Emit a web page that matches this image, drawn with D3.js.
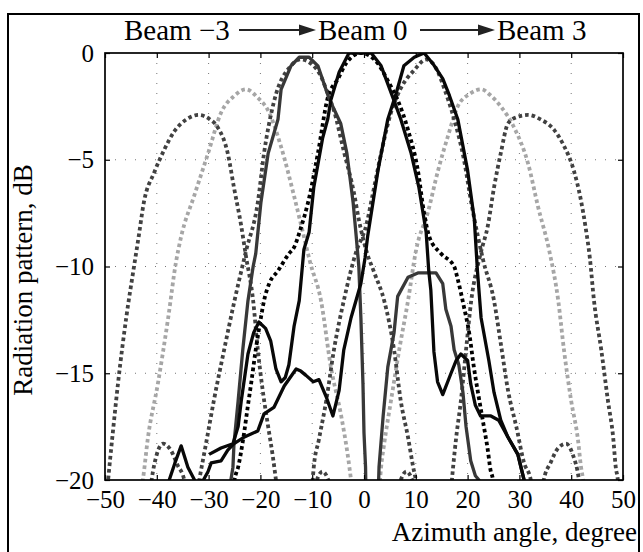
<!DOCTYPE html>
<html>
<head>
<meta charset="utf-8">
<script src="https://cdn.jsdelivr.net/npm/d3@7"></script>
<style>
  body { margin: 0; background: #fff; }
  svg text { font-family: "Liberation Serif", "DejaVu Serif", serif !important; fill: #000; }
</style>
</head>
<body>
<div id="chart"></div>
<script>
// axis ticks
var xTicks = [-50, -40, -30, -20, -10, 0, 10, 20, 30, 40, 50];
var yTicks = [0, -5, -10, -15, -20];

// simulated patterns (dotted) [angle, dB]
var simBeamM3 = [[-50,-21.5],[-49.4,-20],[-49,-19],[-48.5,-17.8],[-47.5,-15.5],[-45.9,-12.4],[-44.4,-10],[-43.5,-8.6],[-42.5,-7],[-40.5,-5.6],[-38.5,-4.5],[-36.7,-3.7],[-34.2,-3.1],[-31.9,-2.9],[-29.8,-3.1],[-28.2,-3.5],[-26.3,-4.7],[-25.1,-6.3],[-23.7,-8.1],[-22.8,-9.5],[-21.4,-11.6],[-20.5,-13.9],[-19.5,-15.9],[-18.5,-17.5],[-17.6,-18.9],[-17,-20],[-16.5,-21]];
var simBeamM2 = [[-43.5,-21],[-42.7,-20],[-41.7,-18],[-39.8,-15.5],[-37.8,-12.4],[-36.3,-9.8],[-35.3,-8.6],[-32.8,-6.7],[-30.1,-4.7],[-27.6,-2.8],[-25,-2],[-22.8,-1.7],[-20.5,-2.1],[-18.5,-2.7],[-16,-4.4],[-13.5,-6.7],[-11.6,-8.6],[-10.4,-9.8],[-8.3,-11.6],[-6.4,-14.7],[-4.4,-17],[-3.1,-18.9],[-2.5,-20],[-2,-21]];
var simBeamM1 = [[-32.5,-21],[-31.8,-20],[-30.5,-18.3],[-29,-16.3],[-27,-13.9],[-25,-11.6],[-22.8,-9.3],[-20.5,-7],[-19.3,-4.7],[-17.4,-2.3],[-14.1,-0.6],[-12.2,-0.3],[-10.2,-0.5],[-8.3,-1.1],[-7,-1.9],[-5.8,-2.7],[-3.9,-4.6],[-1.9,-6.6],[-1,-7.8],[0.5,-9.3],[2,-10.3],[3.9,-11.6],[5.8,-13.9],[7.1,-16.3],[8.5,-18],[9.5,-19.4],[10,-20],[10.5,-21]];
var simBeam0 = [[-25.5,-21],[-25,-20],[-24.3,-19.4],[-23.4,-18.2],[-22.4,-16.5],[-21.8,-15.5],[-20.9,-13.9],[-19.9,-12.4],[-19.3,-11.6],[-18.3,-10.8],[-16.6,-10.2],[-14.5,-9.4],[-13.5,-9.1],[-12.2,-8.2],[-10.8,-7],[-8.9,-4.7],[-7,-2.1],[-5,-1.2],[-3.5,-0.5],[-0.6,0],[2.7,-0.5],[4.6,-1.3],[6.5,-2.2],[8.5,-3.6],[10.4,-5.5],[11.6,-7.5],[12.6,-8.6],[14.9,-9.4],[17.4,-10],[18.1,-10.6],[19.3,-11.9],[20.3,-13.1],[21.2,-14.7],[22,-15.9],[23,-17.3],[23.9,-18.6],[24.4,-19.5],[24.9,-20],[25.3,-21]];
var simBeam1 = [[-10.2,-21],[-9.7,-19.4],[-8.7,-18.1],[-7.3,-16.3],[-5.8,-13.9],[-3.9,-11.6],[-1.5,-9.3],[0.4,-8.1],[1.7,-6.6],[3.3,-4.7],[5.2,-2.8],[7,-1.7],[9.7,-0.8],[12,-0.3],[14.3,-0.9],[15.4,-1.6],[17.4,-3.1],[19.3,-5],[20.7,-7],[22,-8.6],[23,-9.7],[25.1,-11.6],[26.4,-13.6],[27.8,-15.8],[29.4,-17.5],[30.9,-19.2],[32.2,-20],[32.7,-21]];
var simBeam2 = [[2.8,-21],[3.3,-19.4],[3.9,-18.3],[5.2,-16.3],[6.8,-13.9],[8.5,-11.6],[10,-9.3],[12.4,-7.4],[14.3,-5.5],[16.2,-3.9],[18.1,-2.5],[20.5,-1.9],[22.6,-1.7],[24.5,-2],[26.4,-2.5],[29,-3.5],[31.7,-5.2],[33.6,-7.2],[35.8,-9.3],[37.5,-11.6],[38.6,-13.9],[40,-16.3],[41.3,-18.1],[41.9,-19.4],[42.3,-20],[42.7,-21]];
var simBeam3 = [[16.6,-21],[17.2,-19.4],[17.8,-18],[18.7,-16.3],[19.7,-13.9],[20.7,-11.6],[22.5,-9.4],[23.9,-8.1],[25.1,-6.3],[26.4,-4.7],[27.8,-3.3],[29.5,-3],[31.7,-2.9],[34,-3.1],[36.7,-3.6],[38.5,-4.3],[40.5,-5.5],[41.8,-6.8],[42.8,-8.2],[43.6,-9.6],[44.4,-11.6],[45.8,-13.9],[47.1,-16.3],[48.1,-18],[48.6,-19.4],[49,-20],[49.3,-21]];
var sideLobeLeft = [[-41.5,-21],[-41,-20],[-40,-18.8],[-38.8,-18.3],[-37.3,-18.6],[-36,-19.3],[-34.7,-20],[-34.2,-21]];
var sideLobeRight = [[34.2,-21],[34.7,-20],[36,-19.2],[37.5,-18.5],[39,-18.3],[40.3,-18.8],[41.5,-20],[42,-21]];
var sideLobeNear = [[[-9.8,-20.6],[-9.1,-20],[-8,-19.6],[-6.9,-20],[-6.2,-20.6]], [[6.4,-20.6],[7.1,-20],[8.2,-19.6],[9.3,-20],[10,-20.6]]];

// measured patterns (solid)
var measBeamM1 = [[-25.8,-21],[-25.7,-20],[-25.3,-19.4],[-25.1,-18.3],[-24.3,-16.3],[-23.4,-13.9],[-22.4,-11.6],[-21.4,-10],[-20.9,-9.4],[-19.9,-7],[-18.5,-4.7],[-16.6,-3.1],[-16,-1.7],[-14.1,-0.6],[-12.5,-0.2],[-10.6,-0.2],[-8.9,-0.6],[-6.8,-2.1],[-4.5,-3.3],[-3.3,-4.7],[-2.1,-7],[-1.5,-8.6],[-1,-10],[-0.6,-12.4],[-0.2,-15.5],[0,-17.8],[0.3,-19.4],[0.4,-21]];
var measBeamM1Lobe = [[2.7,-21],[2.9,-19.4],[3.7,-17],[4.6,-14.7],[5.8,-13.1],[6.5,-11.4],[8.5,-10.5],[10.4,-10.3],[12.4,-10.3],[13.9,-10.3],[15.2,-10.8],[15.8,-12],[16.8,-12.8],[17.4,-13.9],[18.3,-14.6],[19.1,-15.9],[19.7,-17.5],[20.6,-19.1],[21.5,-19.8],[22.2,-20],[22.4,-21]];
var measBeam0 = [[-29.9,-18.8],[-27.6,-18.5],[-25.3,-18.3],[-24.3,-17.5],[-23.7,-16.3],[-22.4,-14.1],[-21.3,-13.1],[-20.3,-12.6],[-19,-12.9],[-18,-13.5],[-17,-14.8],[-16,-15.4],[-15.2,-15.2],[-14.5,-14.6],[-13.5,-12.8],[-12.5,-11.6],[-11.6,-9.2],[-10.6,-8.4],[-9.7,-6.3],[-8,-4],[-7,-3.1],[-6.4,-2.2],[-4.8,-0.9],[-2.9,0],[1.4,0],[3.3,-0.6],[5.6,-2.1],[7.1,-3.1],[9.1,-4.7],[10.6,-6.3],[12,-8.4],[12.5,-10.2],[12.9,-11.1],[13.5,-14],[14.2,-15.4],[15.2,-16],[16.8,-15],[17.8,-14.4],[18.7,-14.1],[20,-14.4],[20.6,-15.5],[21.5,-16.5],[22.5,-17],[24.5,-17],[26,-17.2],[27.8,-18],[29.7,-18.8],[30.9,-20],[31.2,-21]];
var measBeam1 = [[-39,-21],[-37.6,-20],[-36.5,-19.2],[-35.3,-18.4],[-34,-19.4],[-32.5,-20.1],[-31,-20],[-30.1,-19.6],[-29.5,-19.2],[-27.6,-19.1],[-26.3,-18.6],[-25.1,-18.3],[-23.2,-18],[-20.5,-17.7],[-19.3,-16.9],[-17.4,-16.6],[-15.4,-15.6],[-13.1,-14.8],[-12.2,-14.9],[-11.2,-15.1],[-9.8,-15.4],[-8.7,-15.3],[-7.3,-16.1],[-6,-17],[-4.8,-15.8],[-3.9,-13.9],[-2.5,-12.4],[-0.6,-10.8],[0.2,-9.6],[0.7,-8.6],[2.7,-5.5],[4.6,-3.1],[6.2,-1.9],[7.7,-0.6],[9.7,-0.2],[11.6,0],[13.3,-0.5],[15.2,-1.2],[16.5,-2],[18.1,-3.1],[20,-5.5],[21.3,-7.8],[21.9,-10.2],[22.6,-12.4],[24.1,-14.4],[25.1,-15.9],[26.4,-17.2],[27.8,-18],[29.7,-18.8],[30.9,-20],[31.2,-21]];

var titleParts = ["Beam \u22123", "Beam 0", "Beam 3"];

var width = 643, height = 552;
var margin = {top: 53, right: 20, bottom: 72, left: 105};
var serif = "'Liberation Serif', 'DejaVu Serif', serif";

var svg = d3.select("#chart").append("svg")
    .attr("width", width)
    .attr("height", height);

svg.append("rect").attr("width", width).attr("height", height).attr("fill", "#fff");

// outer frame
svg.append("rect")
    .attr("x", 8).attr("y", 14)
    .attr("width", 631).attr("height", 560)
    .attr("fill", "none").attr("stroke", "#000").attr("stroke-width", 2);

var x = d3.scaleLinear().domain([-50, 50]).range([margin.left, width - margin.right]);
var y = d3.scaleLinear().domain([-20, 0]).range([height - margin.bottom, margin.top]);

svg.append("clipPath").attr("id", "clip")
  .append("rect")
    .attr("x", x(-50)).attr("y", y(0))
    .attr("width", x(50) - x(-50)).attr("height", y(-20) - y(0));

// grid
var grid = svg.append("g").attr("class", "grid");
grid.selectAll(".gx").data(xTicks.slice(1, -1)).enter().append("line")
    .attr("x1", d => x(d)).attr("x2", d => x(d))
    .attr("y1", y(0)).attr("y2", y(-20))
    .attr("stroke", "#777").attr("stroke-width", 1).attr("stroke-dasharray", "1,9");
grid.selectAll(".gy").data(yTicks.slice(1, -1)).enter().append("line")
    .attr("x1", x(-50)).attr("x2", x(50))
    .attr("y1", d => y(d)).attr("y2", d => y(d))
    .attr("stroke", "#777").attr("stroke-width", 1).attr("stroke-dasharray", "1,9");

var line = d3.line().x(d => x(d[0])).y(d => y(d[1])).curve(d3.curveMonotoneX);
var lineMeas = d3.line().x(d => x(d[0])).y(d => y(d[1]));

var plot = svg.append("g").attr("clip-path", "url(#clip)");

var darkGray = "#414141", lightGray = "#a6a6a6";

// simulated: dotted
var sims = [
  {data: simBeamM2, color: lightGray},
  {data: simBeam2, color: lightGray},
  {data: simBeamM3, color: darkGray},
  {data: simBeam3, color: darkGray},
  {data: simBeamM1, color: darkGray},
  {data: simBeam1, color: darkGray},
  {data: sideLobeLeft, color: darkGray},
  {data: sideLobeRight, color: darkGray},
  {data: sideLobeNear[0], color: darkGray},
  {data: sideLobeNear[1], color: darkGray},
  {data: simBeam0, color: "#000"}
];
plot.selectAll(".sim").data(sims).enter().append("path")
    .attr("d", d => line(d.data))
    .attr("fill", "none")
    .attr("stroke", d => d.color)
    .attr("stroke-width", 3.8)
    .attr("stroke-dasharray", "3.6,3");

// measured: solid
var meas = [
  {data: measBeamM1, color: "#383838"},
  {data: measBeamM1Lobe, color: "#383838"},
  {data: measBeam1, color: "#080808"},
  {data: measBeam0, color: "#080808"}
];
plot.selectAll(".meas").data(meas).enter().append("path")
    .attr("d", d => lineMeas(d.data))
    .attr("fill", "none")
    .attr("stroke", d => d.color)
    .attr("stroke-width", 3.3)
    .attr("stroke-linejoin", "round");

// axes with inward ticks
var fmt = d3.format("d");
svg.append("g")
    .attr("transform", "translate(0," + y(-20) + ")")
    .call(d3.axisBottom(x).tickValues(xTicks).tickFormat(fmt).tickSizeInner(-5).tickSizeOuter(0).tickPadding(10))
    .call(g => g.select(".domain").remove())
    .call(g => g.attr("font-family", serif).attr("font-size", 25));
svg.append("g")
    .attr("transform", "translate(" + x(-50) + ",0)")
    .call(d3.axisLeft(y).tickValues(yTicks).tickFormat(fmt).tickSizeInner(-5).tickSizeOuter(0).tickPadding(11))
    .call(g => g.select(".domain").remove())
    .call(g => g.attr("font-family", serif).attr("font-size", 25));
// lift the bottom y label a little so it clears the first x label
svg.selectAll("g.tick text").filter(d => d === -20 && false);
svg.append("g")
    .attr("transform", "translate(0," + y(0) + ")")
    .call(d3.axisTop(x).tickValues(xTicks).tickFormat("").tickSizeInner(-5).tickSizeOuter(0))
    .call(g => g.select(".domain").remove());
svg.append("g")
    .attr("transform", "translate(" + x(50) + ",0)")
    .call(d3.axisRight(y).tickValues(yTicks).tickFormat("").tickSizeInner(-5).tickSizeOuter(0))
    .call(g => g.select(".domain").remove());
svg.selectAll(".tick line").attr("stroke", "#000").attr("stroke-width", 1.2);

// plot box
svg.append("rect")
    .attr("x", x(-50)).attr("y", y(0))
    .attr("width", x(50) - x(-50)).attr("height", y(-20) - y(0))
    .attr("fill", "none").attr("stroke", "#000").attr("stroke-width", 1.7);

// axis labels
svg.append("text")
    .attr("x", 637).attr("y", 541)
    .attr("text-anchor", "end")
    .attr("font-family", serif).attr("font-size", 27)
    .text("Azimuth angle, degree");
svg.append("text")
    .attr("transform", "translate(32,280) rotate(-90)")
    .attr("text-anchor", "middle")
    .attr("font-family", serif).attr("font-size", 27)
    .text("Radiation pattern, dB");

// title with arrows
var title = svg.append("g");
var titleX = [124, 318, 497];
title.selectAll("text").data(titleParts).enter().append("text")
    .attr("x", (d, i) => titleX[i]).attr("y", 40)
    .attr("font-family", serif).attr("font-size", 29)
    .text(d => d);
[[239, 316], [420, 495]].forEach(function(a) {
  title.append("line")
      .attr("x1", a[0]).attr("x2", a[1] - 12)
      .attr("y1", 30).attr("y2", 30)
      .attr("stroke", "#222").attr("stroke-width", 2);
  title.append("path")
      .attr("d", "M" + (a[1] - 17) + ",24.5 L" + a[1] + ",30 L" + (a[1] - 17) + ",35.5 Z")
      .attr("fill", "#222");
});
</script>
</body>
</html>
